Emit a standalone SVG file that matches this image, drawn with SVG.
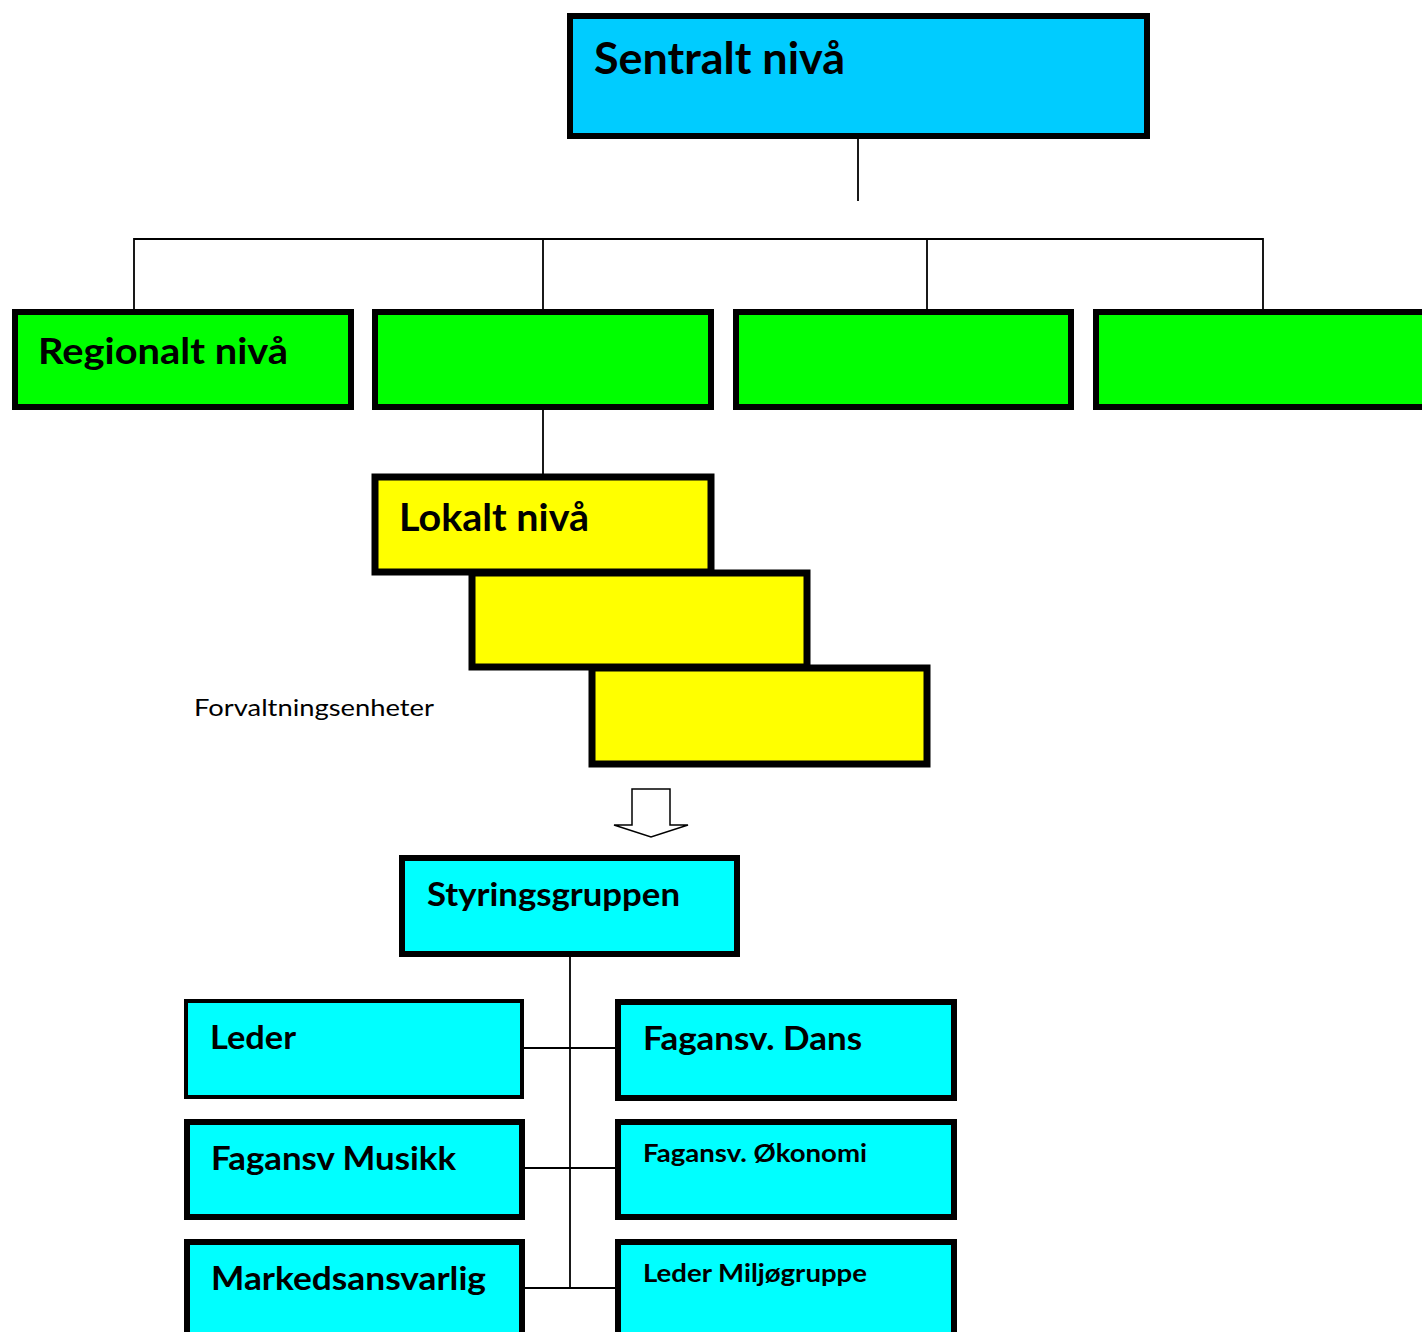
<svg xmlns="http://www.w3.org/2000/svg" width="1422" height="1332" viewBox="0 0 1422 1332">
<style>
.box{stroke:#000;stroke-width:6}
.blue{fill:#00CCFF}
.green{fill:#00FF00}
.yellow{fill:#FFFF00;stroke-width:7}
.cyan{fill:#00FFFF}
.lbl{font-family:Lato,"Liberation Sans",sans-serif;font-weight:bold;fill:#000}
.plain{font-family:Lato,"Liberation Sans",sans-serif;fill:#000}
.conn{stroke:#000;stroke-width:1.8;fill:none}
</style>
<rect width="1422" height="1332" fill="#fff"/>
<g id="connectors">
<line class="conn" x1="858" y1="138" x2="858" y2="201"/>
<polyline class="conn" points="134,310 134,239 1263,239 1263,310"/>
<line class="conn" x1="543" y1="239" x2="543" y2="310"/>
<line class="conn" x1="927" y1="239" x2="927" y2="310"/>
<line class="conn" x1="543" y1="409" x2="543" y2="475"/>
<line class="conn" x1="570" y1="956" x2="570" y2="1288"/>
<line class="conn" x1="524" y1="1048" x2="616" y2="1048"/>
<line class="conn" x1="524" y1="1168" x2="616" y2="1168"/>
<line class="conn" x1="524" y1="1288" x2="616" y2="1288"/>
<path id="down-arrow" d="M632,789 L670,789 L670,825 L688,825 L651,837 L614,825 L632,825 Z" fill="#fff" stroke="#000" stroke-width="1.5"/>
</g>
<g id="sentralt">
<rect class="box blue" x="570" y="16" width="577" height="120"/>
<text class="lbl" x="594" y="74" font-size="44" textLength="251" lengthAdjust="spacingAndGlyphs">Sentralt nivå</text>
</g>
<g id="regionalt">
<rect class="box green" x="15" y="312" width="336" height="95"/>
<text class="lbl" x="38" y="364" font-size="37" textLength="250" lengthAdjust="spacingAndGlyphs">Regionalt nivå</text>
</g>
<g id="green2"><rect class="box green" x="375" y="312" width="336" height="95"/></g>
<g id="green3"><rect class="box green" x="736" y="312" width="335" height="95"/></g>
<g id="green4"><rect class="box green" x="1096" y="312" width="340" height="95"/></g>
<g id="lokalt">
<rect class="box yellow" x="375" y="477" width="336" height="95"/>
<text class="lbl" x="399" y="531" font-size="38" textLength="190" lengthAdjust="spacingAndGlyphs">Lokalt nivå</text>
</g>
<g id="yellow2"><rect class="box yellow" x="472" y="573" width="335" height="94"/></g>
<g id="yellow3"><rect class="box yellow" x="592" y="668" width="335" height="96"/></g>
<g id="forvaltning">
<text class="plain" x="194" y="716" font-size="24" textLength="240" lengthAdjust="spacingAndGlyphs">Forvaltningsenheter</text>
</g>
<g id="styringsgruppen">
<rect class="box cyan" x="402" y="858" width="335" height="96"/>
<text class="lbl" x="427" y="906" font-size="32" textLength="253" lengthAdjust="spacingAndGlyphs">Styringsgruppen</text>
</g>
<g id="leder">
<rect class="box cyan" x="186" y="1001" width="336" height="96" style="stroke-width:4"/>
<text class="lbl" x="210" y="1049" font-size="32" textLength="86" lengthAdjust="spacingAndGlyphs">Leder</text>
</g>
<g id="fagansv-musikk">
<rect class="box cyan" x="187" y="1122" width="335" height="95"/>
<text class="lbl" x="211" y="1170" font-size="32" textLength="245" lengthAdjust="spacingAndGlyphs">Fagansv Musikk</text>
</g>
<g id="markedsansvarlig">
<rect class="box cyan" x="187" y="1242" width="335" height="100"/>
<text class="lbl" x="211" y="1290" font-size="32" textLength="275" lengthAdjust="spacingAndGlyphs">Markedsansvarlig</text>
</g>
<g id="fagansv-dans">
<rect class="box cyan" x="618" y="1002" width="336" height="96"/>
<text class="lbl" x="643" y="1050" font-size="32" textLength="219" lengthAdjust="spacingAndGlyphs">Fagansv. Dans</text>
</g>
<g id="fagansv-okonomi">
<rect class="box cyan" x="618" y="1122" width="336" height="95"/>
<text class="lbl" x="643" y="1162" font-size="25" textLength="224" lengthAdjust="spacingAndGlyphs">Fagansv. Økonomi</text>
</g>
<g id="leder-miljogruppe">
<rect class="box cyan" x="618" y="1242" width="336" height="100"/>
<text class="lbl" x="643" y="1282" font-size="25" textLength="224" lengthAdjust="spacingAndGlyphs">Leder Miljøgruppe</text>
</g>
</svg>
